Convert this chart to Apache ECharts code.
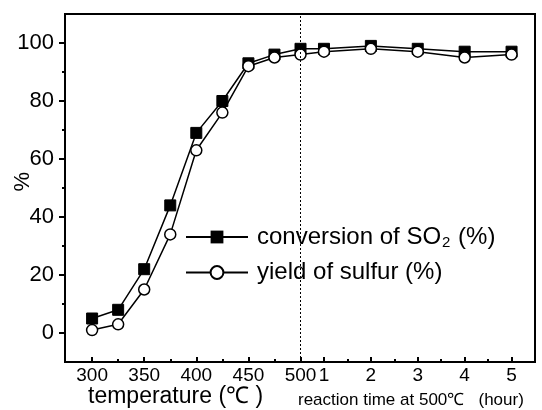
<!DOCTYPE html>
<html>
<head>
<meta charset="utf-8">
<script src="https://cdn.jsdelivr.net/npm/echarts@6/dist/echarts.min.js"></script>
<style>
  html, body { margin: 0; padding: 0; background: #fff; }
  #chart { width: 542px; height: 410px; }
</style>
</head>
<body>
<div id="chart"></div>
<script>
// temperature ramp, then hold at 500 ℃
const temperatures = [300, 325, 350, 375, 400, 425, 450, 475, 500]
const hours = [1, 2, 3, 4, 5]
const conversion = [5, 8, 22, 44, 69, 80, 93, 96, 98, 98, 99, 98, 97, 97]
const yieldSulfur = [1, 3, 15, 34, 63, 76, 92, 95, 96, 97, 98, 97, 95, 96]

const tempLabels = [300, 350, 400, 450, 500]
const tempMinor = [325, 375, 425, 475]
const hourMinor = [1.5, 2.5, 3.5, 4.5]
const yLabels = [0, 20, 40, 60, 80, 100]
const yMinor = [10, 30, 50, 70, 90]

// hour axis is glued on after 500 ℃: half an hour sits between 500 and "1"
const hourToX = h => 500 + (h - 0.5) * 45
const xPos = temperatures.concat(hours.map(hourToX))

const FONT = 'Arial, "Liberation Sans", sans-serif'
const X_MIN = 274
const X_MAX = 725

const majorX = tempLabels.concat(hours.map(hourToX))
const minorX = tempMinor.concat(hourMinor.map(hourToX))

function xLabel(v) {
  if (v <= 500) return String(Math.round(v))
  return String(Math.round((v - 500) / 45 + 0.5))
}

const chart = echarts.init(document.getElementById('chart'))

const option = {
  animation: false,
  backgroundColor: '#fff',
  grid: {
    left: 65, top: 14, right: 7, bottom: 48,
    show: true, borderColor: '#000', borderWidth: 2
  },
  legend: {
    left: 185,
    top: 225,
    padding: 0,
    orient: 'vertical',
    itemWidth: 62,
    itemHeight: 16,
    itemGap: 10,
    selectedMode: false,
    textStyle: {
      fontFamily: FONT,
      fontSize: 24,
      color: '#000',
      padding: [0, 0, 0, 4],
      rich: {
        sub: { fontFamily: FONT, fontSize: 15, color: '#000', padding: [12, 1, 0, 1] }
      }
    },
    formatter: name => name === 'SO2' ? 'conversion of SO{sub|2} (%)' : 'yield of sulfur (%)'
  },
  xAxis: [
    {
      type: 'value', min: X_MIN, max: X_MAX,
      axisLine: { onZero: false, lineStyle: { color: '#000', width: 2 } },
      splitLine: { show: false },
      axisTick: { inside: true, length: 5, customValues: majorX, lineStyle: { color: '#000', width: 2 } },
      axisLabel: {
        customValues: majorX, formatter: xLabel, margin: 4,
        fontFamily: FONT, fontSize: 19, color: '#000'
      }
    },
    {
      type: 'value', min: X_MIN, max: X_MAX, position: 'bottom',
      axisLine: { show: false, onZero: false },
      splitLine: { show: false },
      axisTick: { inside: true, length: 3, customValues: minorX, lineStyle: { color: '#000', width: 2 } },
      axisLabel: { show: false }
    }
  ],
  yAxis: [
    {
      type: 'value', min: -10, max: 110,
      axisLine: { show: true, onZero: false, lineStyle: { color: '#000', width: 2 } },
      splitLine: { show: false },
      axisTick: { length: 6, customValues: yLabels, lineStyle: { color: '#000', width: 2 } },
      axisLabel: {
        customValues: yLabels, margin: 11,
        fontFamily: FONT, fontSize: 22, color: '#000'
      }
    },
    {
      type: 'value', min: -10, max: 110, position: 'left',
      axisLine: { show: false, onZero: false },
      splitLine: { show: false },
      axisTick: { length: 3, customValues: yMinor, lineStyle: { color: '#000', width: 2 } },
      axisLabel: { show: false }
    }
  ],
  graphic: [
    {
      type: 'text', left: 12, top: 172, rotation: Math.PI / 2,
      style: { text: '%', font: '22px ' + FONT, fill: '#000' }
    },
    {
      type: 'text', left: 88, top: 385,
      style: { text: 'temperature (℃ )', font: '23px ' + FONT, fill: '#000' }
    },
    {
      type: 'text', left: 298, top: 392,
      style: { text: 'reaction time at 500℃   (hour)', font: '17px ' + FONT, fill: '#000' }
    }
  ],
  series: [
    {
      name: 'SO2', type: 'line',
      data: xPos.map((x, i) => [x, conversion[i]]),
      symbol: 'rect', symbolSize: 11,
      itemStyle: { color: '#000', borderColor: '#000' },
      lineStyle: { color: '#000', width: 1.5 },
      markLine: {
        silent: true, symbol: 'none', label: { show: false },
        lineStyle: { color: '#000', width: 1, type: [2, 2] },
        data: [{ xAxis: 500 }]
      }
    },
    {
      name: 'S', type: 'line',
      data: xPos.map((x, i) => [x, yieldSulfur[i]]),
      symbol: 'circle', symbolSize: 11,
      itemStyle: { color: '#fff', borderColor: '#000', borderWidth: 1.5 },
      lineStyle: { color: '#000', width: 1.5 }
    }
  ]
}

chart.setOption(option)
</script>
</body>
</html>
